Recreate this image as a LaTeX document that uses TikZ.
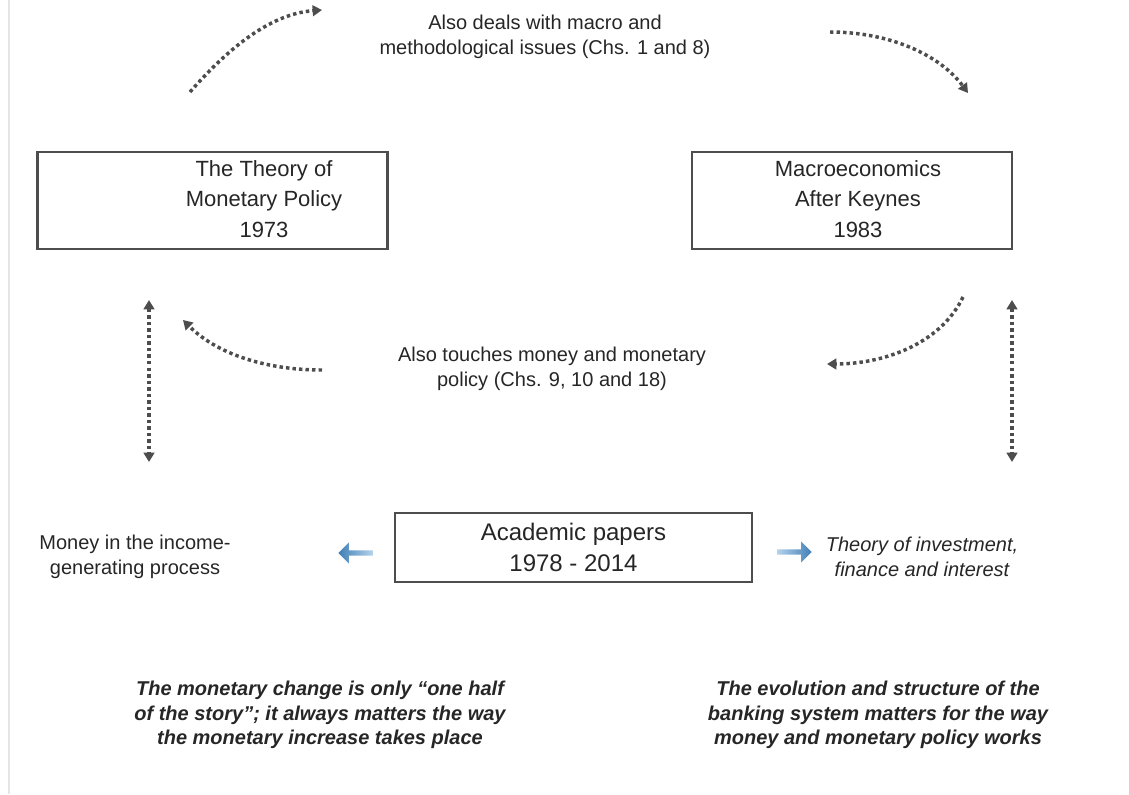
\documentclass[tikz,border=0pt]{standalone}
\usepackage{fontspec}
\setmainfont{Liberation Sans}
\usetikzlibrary{arrows.meta,shapes.arrows,calc}
\definecolor{inkgray}{HTML}{4D4D4D}
\definecolor{arrowblue}{HTML}{3F7FB5}
\definecolor{arrowlight}{HTML}{B5D3EC}

\begin{document}
\begin{tikzpicture}[
    x=0.75pt, y=-0.75pt,
    every node/.style={font=\fontsize{15}{18.5}\selectfont, text=black!85},
    book/.style={rectangle, draw=inkgray, line width=2.2pt, fill=white, inner sep=0pt},
    booktext/.style={align=center, font=\fontsize{16.5}{23}\selectfont},
    note/.style={align=center},
    moral/.style={align=center, font=\fontsize{15}{18.5}\selectfont\bfseries\itshape},
    dotarrow/.style={draw=inkgray, line width=2.6pt, dash pattern=on 2.6pt off 2.3pt, -{Triangle[length=7pt,width=8pt]}},
    dotboth/.style={dotarrow, {Triangle[length=7pt,width=8pt]}-{Triangle[length=7pt,width=8pt]}},
    bluearrow/.style={single arrow, draw=none, minimum height=26pt, minimum width=16pt, single arrow head extend=3.5pt, inner sep=1pt},
]
\useasboundingbox (0,0) rectangle (1129,794);
\draw[gray!20, line width=1.5pt] (9,0) -- (9,794);

% the three boxes
\node[book, minimum width=263pt, minimum height=72.75pt] (theory) at (212.5,200.5) {};
\node[booktext] (theorytxt) at (264,199) {The Theory of\\Monetary Policy\\1973};
\node[book, minimum width=240pt, minimum height=72.75pt] (macro) at (852,200.5) {};
\node[booktext] (macrotxt) at (858,199) {Macroeconomics\\After Keynes\\1983};
\node[book, minimum width=267.75pt, minimum height=51.75pt, booktext, font=\fontsize{18}{23}\selectfont] (papers) at (573.5,547.5) {Academic papers\\1978 - 2014};

% notes between the books
\node[note] (dealsnote) at (545,37) {Also deals with macro and\\methodological issues (Chs. 1 and 8)};
\node[note] (touchesnote) at (552,369) {Also touches money and monetary\\policy (Chs. 9, 10 and 18)};
\node[note] (moneyproc) at (135,557) {Money in the income-\\generating process};
\node[note, font=\fontsize{15}{18.5}\selectfont\itshape] (investnote) at (922,557) {Theory of investment,\\finance and interest};
\node[moral] (halfstory) at (320,715) {The monetary change is only “one half\\of the story”; it always matters the way\\the monetary increase takes place};
\node[moral] (bankingnote) at (878,715) {The evolution and structure of the\\banking system matters for the way\\money and monetary policy works};

% dotted links
\coordinate (tl-a) at (190,92);  \coordinate (tl-b) at (322,10);
\coordinate (tr-a) at (830,32);  \coordinate (tr-b) at (968,93);
\coordinate (ml-a) at (322,370); \coordinate (ml-b) at (183,320);
\coordinate (mr-a) at (963,297); \coordinate (mr-b) at (827,364);
\draw[dotarrow] (tl-a) .. controls (225,52) and (268,14) .. (tl-b);
\draw[dotarrow] (tr-a) .. controls (890,32) and (940,55) .. (tr-b);
\draw[dotarrow] (ml-a) .. controls (262,370) and (215,352) .. (ml-b);
\draw[dotarrow] (mr-a) .. controls (940,345) and (882,364) .. (mr-b);
\coordinate (lv-a) at (149,300); \coordinate (lv-b) at (149,462);
\coordinate (rv-a) at (1012,300); \coordinate (rv-b) at (1012,462);
\draw[dotboth] (lv-a) -- (lv-b);
\draw[dotboth] (rv-a) -- (rv-b);

% blue arrows out of the papers
\node[bluearrow, shape border rotate=180, left color=arrowblue, right color=arrowlight] (toleft) at (357,553) {};
\node[bluearrow, left color=arrowlight, right color=arrowblue] (toright) at (793,552) {};
\end{tikzpicture}
\end{document}
